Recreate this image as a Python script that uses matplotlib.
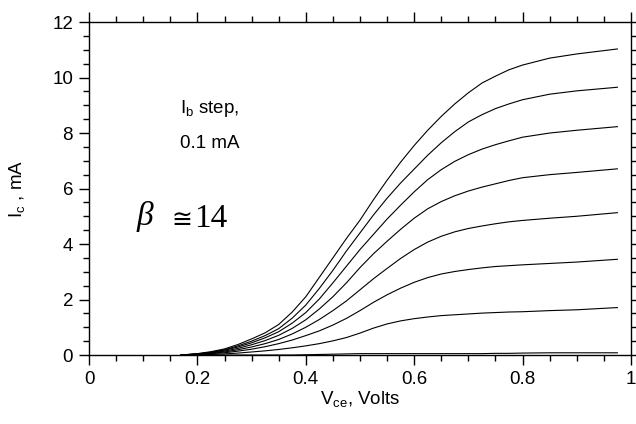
import matplotlib
matplotlib.use("Agg")
import matplotlib.pyplot as plt
from matplotlib.ticker import MultipleLocator

plt.rcParams['font.family'] = ['Liberation Sans', 'DejaVu Sans']
plt.rcParams['mathtext.fontset'] = 'custom'
plt.rcParams['mathtext.rm'] = 'Liberation Sans'
plt.rcParams['mathtext.it'] = 'Liberation Sans:italic'

# Vce grid (Volts)
vce = [0.17, 0.2, 0.225, 0.25, 0.275, 0.3, 0.325, 0.35, 0.375, 0.4,
       0.425, 0.45, 0.475, 0.5, 0.525, 0.55, 0.575, 0.6, 0.625, 0.65,
       0.675, 0.7, 0.725, 0.75, 0.775, 0.8, 0.85, 0.9, 0.975]

# Ic curves (mA), Ib steps of 0.1 mA, top to bottom
ic1 = [0, 0.05, 0.12, 0.22, 0.38, 0.58, 0.80, 1.10, 1.55, 2.10,
       2.80, 3.50, 4.20, 4.86, 5.60, 6.30, 6.95, 7.55, 8.10, 8.60,
       9.05, 9.45, 9.80, 10.05, 10.28, 10.45, 10.70, 10.85, 11.03]
ic2 = [0, 0.04, 0.10, 0.19, 0.33, 0.50, 0.70, 0.95, 1.33, 1.80,
       2.40, 3.05, 3.75, 4.40, 5.05, 5.65, 6.20, 6.70, 7.20, 7.65,
       8.05, 8.40, 8.66, 8.88, 9.05, 9.20, 9.40, 9.52, 9.65]
ic3 = [0, 0.04, 0.09, 0.17, 0.29, 0.44, 0.62, 0.84, 1.15, 1.53,
       2.02, 2.60, 3.20, 3.80, 4.35, 4.90, 5.40, 5.88, 6.32, 6.68,
       6.98, 7.22, 7.42, 7.58, 7.72, 7.85, 8.00, 8.10, 8.23]
ic4 = [0, 0.03, 0.08, 0.14, 0.24, 0.37, 0.52, 0.71, 0.96, 1.27,
       1.66, 2.10, 2.60, 3.15, 3.65, 4.10, 4.53, 4.93, 5.27, 5.53,
       5.74, 5.91, 6.05, 6.17, 6.29, 6.39, 6.50, 6.58, 6.71]
ic5 = [0, 0.03, 0.06, 0.11, 0.19, 0.29, 0.41, 0.56, 0.76, 1.00,
       1.28, 1.60, 1.95, 2.35, 2.75, 3.12, 3.48, 3.80, 4.07, 4.28,
       4.44, 4.56, 4.65, 4.73, 4.80, 4.85, 4.93, 5.00, 5.13]
ic6 = [0, 0.02, 0.05, 0.08, 0.14, 0.21, 0.30, 0.41, 0.54, 0.70,
       0.87, 1.08, 1.32, 1.60, 1.90, 2.17, 2.41, 2.62, 2.79, 2.92,
       3.01, 3.08, 3.14, 3.19, 3.22, 3.25, 3.30, 3.35, 3.45]
ic7 = [0, 0.01, 0.02, 0.04, 0.07, 0.11, 0.15, 0.20, 0.26, 0.33,
       0.41, 0.51, 0.63, 0.79, 0.97, 1.12, 1.23, 1.31, 1.37, 1.42,
       1.45, 1.48, 1.51, 1.53, 1.55, 1.56, 1.60, 1.63, 1.71]
ic8 = [0, 0, 0, 0, 0, 0, 0, 0, 0, 0.01,
       0.02, 0.03, 0.04, 0.05, 0.05, 0.05, 0.05, 0.05, 0.05, 0.05,
       0.05, 0.05, 0.05, 0.06, 0.06, 0.07, 0.08, 0.08, 0.08]
curves = [ic1, ic2, ic3, ic4, ic5, ic6, ic7, ic8]

xticks = [0, 0.2, 0.4, 0.6, 0.8, 1.0]
xticklabels = ['0', '0.2', '0.4', '0.6', '0.8', '1']
yticks = [0, 2, 4, 6, 8, 10, 12]

fig = plt.figure(figsize=(6.36, 4.24), dpi=100)
ax = fig.add_axes([0.14, 0.1627, 0.852, 0.7853])

for c in curves:
    ax.plot(vce, c, color='black', lw=0.8)

ax.set_xlim(0, 1)
ax.set_ylim(0, 12)
ax.set_xticks(xticks)
ax.set_xticklabels(xticklabels)
ax.set_yticks(yticks)
ax.xaxis.set_minor_locator(MultipleLocator(0.05))
ax.yaxis.set_minor_locator(MultipleLocator(0.5))
ax.tick_params(which='both', direction='out', top=True, right=True,
               labeltop=False, labelright=False, width=1.0, labelsize=13.5)
ax.tick_params(which='major', length=7.5, pad=4)
ax.tick_params(which='minor', length=4)
for s in ax.spines.values():
    s.set_linewidth(1.0)

ax.set_xlabel(r'$\mathregular{V_{ce}}$, Volts', fontsize=13.5, labelpad=1)
ax.set_ylabel(r'$\mathregular{I_c}$ , mA', fontsize=13.5, labelpad=18)

ax.text(0.168, 8.72, r'$\mathregular{I_b}$ step,', fontsize=13.5, ha='left', va='baseline')
ax.text(0.168, 7.46, '0.1 mA', fontsize=13.5, ha='left', va='baseline')

ax.text(0.088, 4.68, 'β', fontsize=24, style='italic',
        family=['Liberation Serif', 'DejaVu Serif'], ha='left', va='baseline')
ax.text(0.152, 4.61, '≅', fontsize=18,
        family=['DejaVu Serif', 'DejaVu Sans'], ha='left', va='baseline')
ax.text(0.194, 4.61, '14', fontsize=24,
        family=['Liberation Serif', 'DejaVu Serif'], ha='left', va='baseline')

fig.savefig('out.png', dpi=100)
